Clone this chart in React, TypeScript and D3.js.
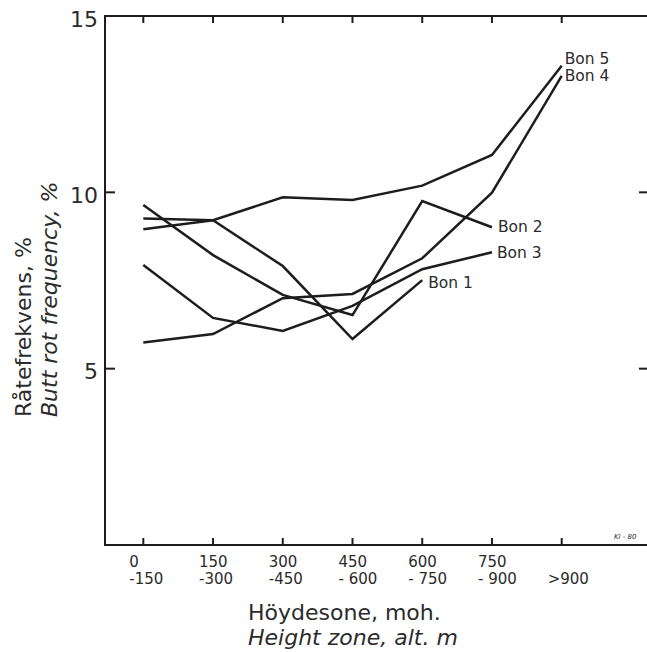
import * as d3 from 'd3';

// height zones (two-line tick labels)
const zoneFrom = ['0', '150', '300', '450', '600', '750', ''];
const zoneTo = ['-150', '-300', '-450', '- 600', '- 750', '- 900', '>900'];

// butt rot frequency, % per site class (bonitet)
const bon1 = [9.26, 9.21, 7.91, 5.84, 7.51];
const bon2 = [9.64, 8.22, 7.09, 6.52, 9.75, 9.01];
const bon3 = [7.94, 6.44, 6.07, 6.78, 7.82, 8.3];
const bon4 = [5.74, 5.98, 7.0, 7.12, 8.13, 9.99, 13.3];
const bon5 = [8.95, 9.21, 9.86, 9.78, 10.19, 11.06, 13.59];

const seriesNames = ['Bon 1', 'Bon 2', 'Bon 3', 'Bon 4', 'Bon 5'];
const seriesValues = [bon1, bon2, bon3, bon4, bon5];
const yTicks = [5, 10, 15];

// label nudges from each line's last point
const labelNudge: Record<string, [number, number]> = {
  'Bon 1': [6, 3],
  'Bon 2': [6, 0],
  'Bon 3': [5, 1],
  'Bon 4': [3, 0],
  'Bon 5': [3, -7],
};

const W = 647;
const H = 652;
const left = 105;
const right = 647;
const top = 16;
const bottom = 545;
const ink = '#1d1d1d';
const textInk = '#2b2b2b';
const font = '"DejaVu Sans", sans-serif';

export default function App() {
  const x = d3.scaleLinear().domain([0, 6]).range([143.3, 561.7]);
  const y = d3.scaleLinear().domain([0, 15]).range([bottom, top]);

  const line = d3
    .line<number>()
    .x((_, i) => x(i))
    .y(d => y(d))
    .curve(d3.curveLinear);

  const idx = d3.range(zoneTo.length);

  return (
    <svg
      width={W}
      height={H}
      style={{ position: 'absolute', left: 0, top: 0, background: '#fff' }}
    >
      {/* frame */}
      <g stroke={ink} strokeWidth={2} fill="none">
        <line x1={left} y1={top} x2={left} y2={bottom} />
        <line x1={left - 1} y1={bottom} x2={right} y2={bottom} />
        <line x1={left - 1} y1={top} x2={right} y2={top} />
        {idx.map(i => (
          <g key={i}>
            <line x1={x(i)} x2={x(i)} y1={bottom} y2={bottom - 7} />
            <line x1={x(i)} x2={x(i)} y1={top} y2={top + 7} />
          </g>
        ))}
        {yTicks
          .filter(t => t < 15)
          .map(t => (
            <g key={t}>
              <line x1={left} x2={left + 10} y1={y(t)} y2={y(t)} />
              <line x1={right - 8} x2={right} y1={y(t)} y2={y(t)} />
            </g>
          ))}
      </g>

      <g fontFamily={font} fill={textInk}>
        {/* y tick labels */}
        <g fontSize={22} textAnchor="end">
          {yTicks.map(t => (
            <text key={t} x={left - 7} y={y(t) + 3} dominantBaseline="central">
              {t}
            </text>
          ))}
        </g>

        {/* x tick labels */}
        <g fontSize={15}>
          {idx.map(i => (
            <g key={i}>
              <text x={x(i) - 14} y={567}>
                {zoneFrom[i]}
              </text>
              <text x={x(i) - 14} y={584}>
                {zoneTo[i]}
              </text>
            </g>
          ))}
        </g>

        {/* line labels */}
        <g fontSize={15.5}>
          {seriesValues.map((vals, k) => {
            const name = seriesNames[k];
            const last = vals.length - 1;
            const [dx, dy] = labelNudge[name];
            return (
              <text
                key={name}
                x={x(last) + dx}
                y={y(vals[last]) + dy}
                dominantBaseline="central"
              >
                {name}
              </text>
            );
          })}
        </g>

        {/* axis titles */}
        <g fontSize={22}>
          <text x={248} y={620}>
            Höydesone, moh.
          </text>
          <text x={248} y={645} fontStyle="italic">
            Height zone, alt. m
          </text>
          <text transform="translate(30.5,417) rotate(-90)">Råtefrekvens, %</text>
          <text transform="translate(56.5,417) rotate(-90)" fontStyle="italic">
            Butt rot frequency, %
          </text>
        </g>

        <text x={614} y={539} fontSize={7} fontStyle="italic">
          Kl - 80
        </text>
      </g>

      {/* lines */}
      <g fill="none" stroke={ink} strokeWidth={2.5} strokeLinejoin="miter">
        {seriesValues.map((vals, k) => (
          <path key={seriesNames[k]} d={line(vals) ?? ''} />
        ))}
      </g>
    </svg>
  );
}
